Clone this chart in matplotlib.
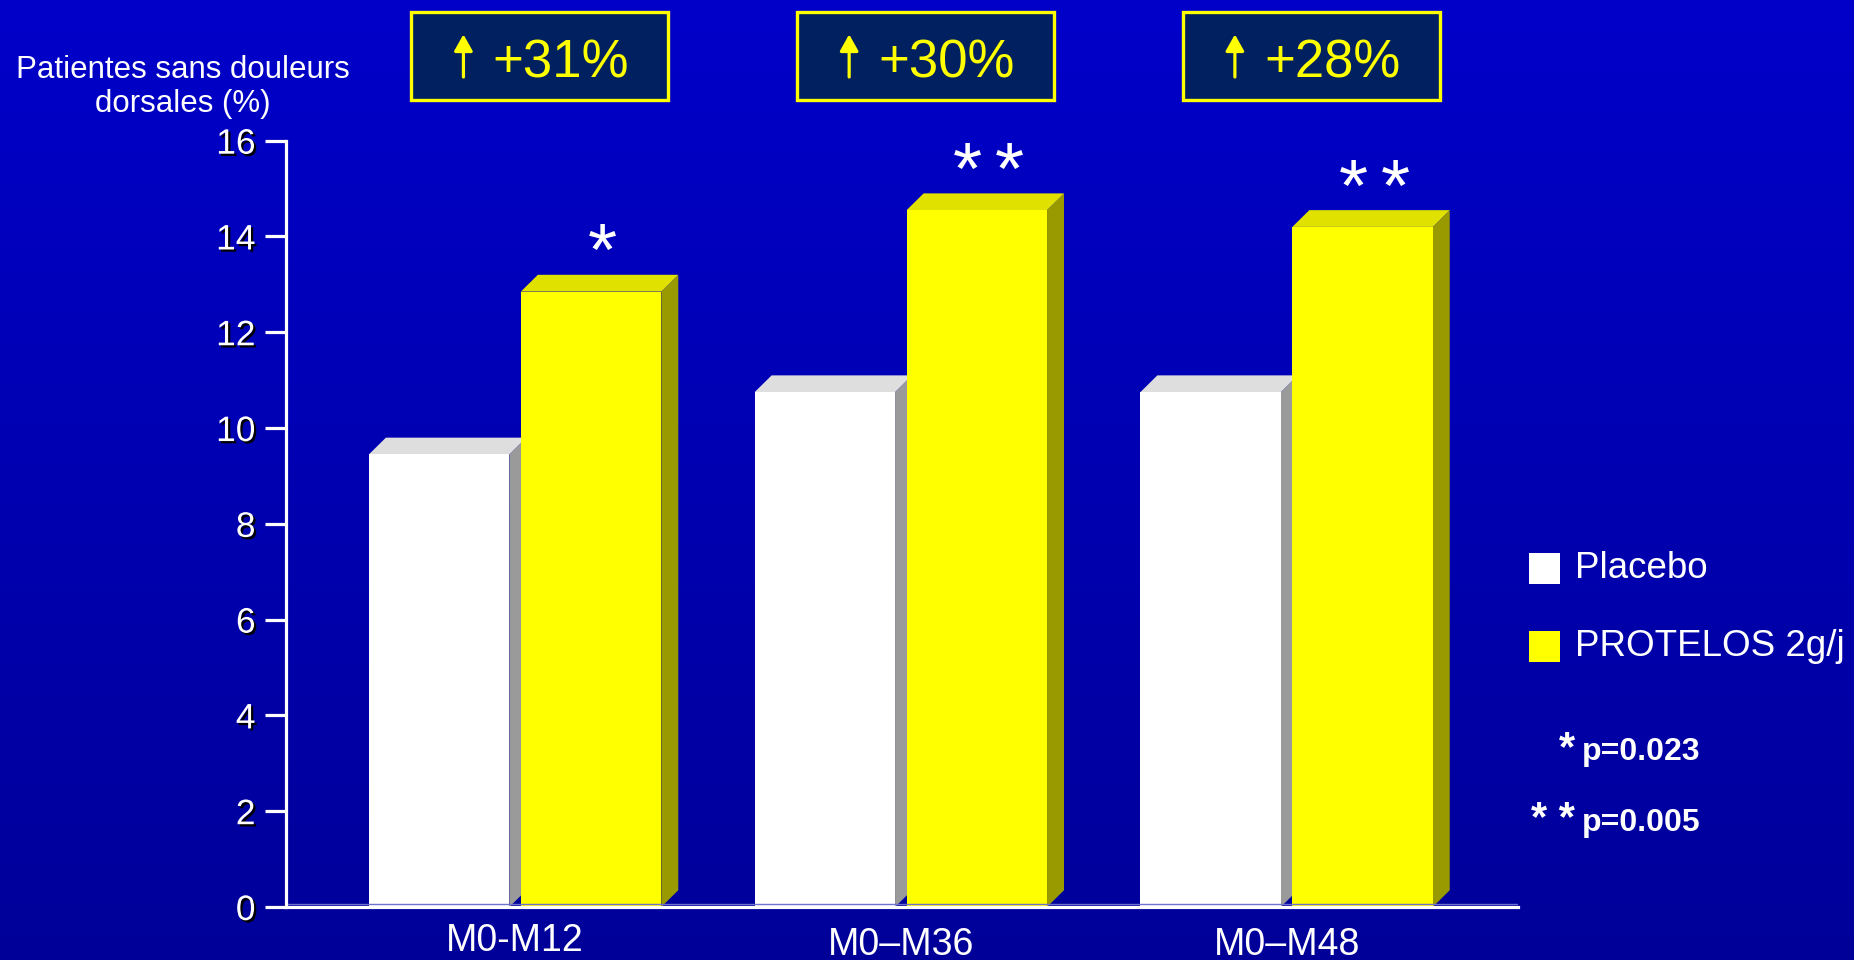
import numpy as np
import matplotlib
matplotlib.use("Agg")
import matplotlib.pyplot as plt
import matplotlib.patheffects as pe
from matplotlib.patches import Polygon, Rectangle

plt.rcParams["font.family"] = ["Liberation Sans", "DejaVu Sans"]

categories = ["M0-M12", "M0\u2013M36", "M0\u2013M48"]
placebo = [9.45, 10.75, 10.75]
protelos = [12.85, 14.55, 14.2]
gains = ["+31%", "+30%", "+28%"]
n_stars = [1, 2, 2]
y_ticks = [0, 2, 4, 6, 8, 10, 12, 14, 16]

W, H = 1854, 960
fig = plt.figure(figsize=(W / 100, H / 100), dpi=100)

# blue gradient background
bg = fig.add_axes([0, 0, 1, 1], zorder=-10)
grad = np.linspace(0, 1, 256)
cols = np.zeros((256, 1, 3))
cols[:, 0, 2] = 0.79 - 0.19 * grad
bg.imshow(cols, aspect="auto", extent=[0, 1, 0, 1])
bg.axis("off")

ax = fig.add_axes([286 / W, 1 - 907 / H, (1518 - 286) / W, (907 - 140.7) / H])
ax.set_facecolor("none")
ax.set_xlim(-0.594, 2.60)
ax.set_ylim(0, 16)

x = np.arange(len(categories))
w = 0.364
off = 0.197
DX, DY = 0.044, 0.35


def faces(xs, heights, top, side, z):
    # side and top faces that give the bars their 3D look
    for xc, h in zip(xs, heights):
        x0, x1 = xc - w / 2, xc + w / 2
        ax.add_patch(Polygon([(x1, 0), (x1 + DX, DY), (x1 + DX, h + DY), (x1, h)],
                             closed=True, fc=side, ec="none", zorder=z))
        ax.add_patch(Polygon([(x0, h), (x0 + DX, h + DY), (x1 + DX, h + DY), (x1, h)],
                             closed=True, fc=top, ec="none", zorder=z))


faces(x - off, placebo, "#dedede", "#9a9a9a", 2)
ax.bar(x - off, placebo, w, color="white", zorder=2)
faces(x + off, protelos, "#e1e100", "#999900", 3)
ax.bar(x + off, protelos, w, color="#ffff00", zorder=3)

# floor edge
ax.axhline(0.07, color="#7070d0", lw=1, zorder=4)

# significance stars
for xc, h, n in zip(x + off, protelos, n_stars):
    shifts = [0] if n == 1 else [-15, 15]
    for s in shifts:
        ax.annotate("*", (xc + DX / 2 + 0.008, h + 0.34), xytext=(s, 0),
                    textcoords="offset points", color="white", fontsize=54,
                    ha="center", va="baseline")

for xc, lab, dy in zip(x, categories, [-0.71, -0.79, -0.79]):
    ax.text(xc, dy, lab, color="white", fontsize=27, ha="center", va="center",
            clip_on=False)

# header boxes with relative gain
for xc, g in zip(x, gains):
    ax.add_patch(Rectangle((xc + 0.064 - 0.333, 16.85), 0.666, 1.83, fc="#002060",
                           ec="#ffff00", lw=2.4, clip_on=False, zorder=5))
    ax.annotate("", xy=(xc - 0.134, 18.22), xytext=(xc - 0.134, 17.33),
                arrowprops=dict(arrowstyle="-|>,head_length=0.5,head_width=0.28",
                                color="#ffff00", lw=2.3, shrinkA=0, shrinkB=0,
                                mutation_scale=20),
                annotation_clip=False, zorder=6)
    ax.text(xc + 0.119, 17.62, g, color="#ffff00", fontsize=38, ha="center",
            va="center", zorder=6, clip_on=False)

for s in ["top", "right"]:
    ax.spines[s].set_visible(False)
for s in ["left", "bottom"]:
    ax.spines[s].set_color("white")
    ax.spines[s].set_linewidth(2.3)
    ax.spines[s].set_zorder(6)
ax.set_xticks([])
ax.set_yticks(y_ticks)
ax.tick_params(axis="y", colors="white", length=15, width=2.3, pad=7,
               labelsize=25.5, direction="out")
for t in ax.get_yticklabels():
    t.set_path_effects([pe.withSimplePatchShadow(offset=(1.6, -1.6),
                                                 shadow_rgbFace="black", alpha=1)])

fig.text(183 / W, 1 - 87 / H, "Patientes sans douleurs\ndorsales (%)", color="white",
         fontsize=22.5, ha="center", va="center", multialignment="center",
         linespacing=1.2)

# legend
for (y0, c, lab) in [(553, "white", "Placebo"), (631, "#ffff00", "PROTELOS 2g/j")]:
    fig.patches.append(Rectangle((1529 / W, 1 - (y0 + 31) / H), 31 / W, 31 / H,
                                 transform=fig.transFigure, fc=c, ec="none"))
    fig.text(1575 / W, 1 - (y0 + 16) / H, lab, color="white", fontsize=26.5,
             ha="left", va="center")

for (yc, st, p) in [(752, "*", "p=0.023"), (823, "* *", "p=0.005")]:
    fig.text(1575 / W, 1 - (yc - 3) / H, st, color="white", fontsize=30,
             fontweight="bold", ha="right", va="center")
    fig.text(1582 / W, 1 - yc / H, p, color="white", fontsize=23,
             fontweight="bold", ha="left", va="center")

fig.savefig("out.png", dpi=100)
